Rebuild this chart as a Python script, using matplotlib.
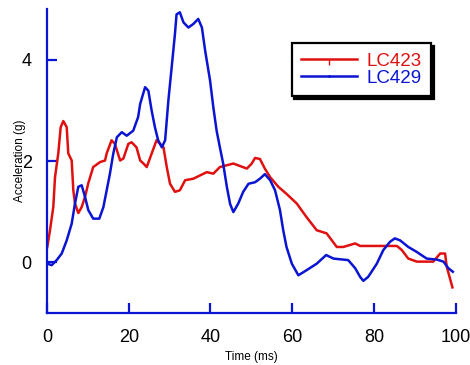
import numpy as np
import matplotlib.pyplot as plt
from matplotlib.lines import Line2D

plt.rcParams['font.family'] = ['Liberation Sans', 'DejaVu Sans']

# LC423 acceleration trace (time in ms, acceleration in g)
t423 = [0.07, 0.73, 1.54, 1.96, 2.76, 3.35, 3.99, 4.82, 5.21, 6.04, 6.44, 6.85, 7.66,
        8.49, 9.30, 10.1, 11.3, 13.0, 14.2, 14.6, 15.8, 16.6, 17.9, 18.7, 19.9, 20.7,
        21.9, 22.8, 23.6, 24.4, 26.8, 28.5, 29.3, 30.1, 31.3, 32.5, 33.8, 35.8, 39.1,
        40.7, 42.3, 45.6, 48.9, 50.1, 50.9, 52.1, 53.3, 54.6, 56.6, 58.6, 61.1, 63.5,
        66.0, 68.4, 70.9, 72.5, 75.4, 76.6, 85.6, 86.8, 88.4, 90.5, 94.5, 96.2, 97.4,
        97.8, 99.2]
a423 = [0.30, 0.63, 1.09, 1.68, 2.15, 2.67, 2.79, 2.67, 2.15, 2.01, 1.42, 1.16, 0.97,
        1.09, 1.29, 1.56, 1.88, 1.98, 2.01, 2.15, 2.41, 2.34, 2.01, 2.05, 2.34, 2.37,
        2.27, 2.01, 1.95, 1.88, 2.41, 2.27, 1.88, 1.55, 1.39, 1.42, 1.62, 1.65, 1.78,
        1.75, 1.88, 1.95, 1.85, 1.95, 2.06, 2.04, 1.85, 1.68, 1.49, 1.35, 1.16, 0.89,
        0.63, 0.57, 0.30, 0.30, 0.37, 0.32, 0.32, 0.24, 0.07, 0.01, 0.01, 0.17, 0.17,
        -0.09, -0.50]

# LC429 acceleration trace
t429 = [0.07, 1.15, 2.37, 3.60, 4.82, 6.04, 6.85, 7.66, 8.49, 9.30, 10.1, 11.3, 12.8,
        13.8, 14.6, 15.4, 16.2, 17.1, 18.3, 19.5, 21.1, 22.3, 22.8, 24.0, 24.8, 25.6,
        26.4, 27.2, 28.1, 28.9, 29.7, 30.5, 31.3, 31.7, 32.5, 33.4, 34.6, 35.8, 37.0,
        37.9, 38.7, 39.9, 40.7, 41.5, 42.3, 43.1, 44.0, 44.8, 45.6, 46.8, 48.0, 49.3,
        50.9, 52.1, 53.3, 54.6, 55.8, 57.0, 57.8, 58.6, 59.9, 61.5, 63.5, 66.0, 68.3,
        70.1, 73.7, 75.4, 76.6, 77.4, 78.6, 80.7, 82.3, 83.9, 85.1, 86.4, 88.4, 90.5,
        92.9, 95.4, 97.0, 98.2, 99.3]
a429 = [-0.03, -0.06, 0.04, 0.17, 0.43, 0.76, 1.16, 1.49, 1.52, 1.29, 1.03, 0.86, 0.86,
        1.09, 1.42, 1.75, 2.14, 2.47, 2.57, 2.50, 2.60, 2.87, 3.13, 3.46, 3.39, 3.00,
        2.67, 2.41, 2.27, 2.41, 3.20, 3.85, 4.51, 4.90, 4.94, 4.74, 4.64, 4.71, 4.81,
        4.64, 4.18, 3.59, 3.06, 2.60, 2.27, 1.95, 1.49, 1.15, 0.99, 1.16, 1.39, 1.55,
        1.58, 1.65, 1.74, 1.62, 1.42, 1.03, 0.63, 0.30, -0.03, -0.26, -0.16, -0.03, 0.14,
        0.07, 0.04, -0.12, -0.29, -0.37, -0.29, -0.03, 0.24, 0.40, 0.47, 0.43, 0.30, 0.20,
        0.07, 0.05, 0.01, -0.12, -0.19]

red = '#e01010'
blue = '#0a14d2'

fig = plt.figure(figsize=(4.7, 3.65), dpi=100)
ax = fig.add_axes([0.1, 0.1433, 0.8696, 0.8312])

ax.plot(t423, a423, color=red, lw=1.8)
ax.plot(t429, a429, color=blue, lw=1.8)

ax.set_xlim(0, 100)
ax.set_ylim(-1, 5)
ax.set_xticks([0, 20, 40, 60, 80, 100])
ax.set_yticks([0, 2, 4])

for side in ['top', 'right']:
    ax.spines[side].set_visible(False)
for side in ['left', 'bottom']:
    ax.spines[side].set_color(blue)
    ax.spines[side].set_linewidth(1.6)

ax.tick_params(direction='in', length=7, width=1.6, color=blue, labelsize=13)
ax.tick_params(axis='x', pad=12)
ax.tick_params(axis='y', pad=11)

ax.set_xlabel('Time (ms)', fontsize=8.5, labelpad=3)
ax.set_ylabel('Acceleration (g)', fontsize=8.5, labelpad=-3)

handles = [Line2D([0, 1, 2], [0, 0, 0], color=red, lw=1.8, marker=3, markersize=4, markevery=[1]),
           Line2D([0, 1, 2], [0, 0, 0], color=blue, lw=1.8, marker='.', markersize=2, markevery=[1])]
leg = ax.legend(handles, ['LC423', 'LC429'], loc='upper left',
                bbox_to_anchor=(0.6206, 0.8814), bbox_transform=fig.transFigure,
                borderaxespad=0, fontsize=13.5, labelcolor='linecolor',
                fancybox=False, shadow={'color': 'black', 'alpha': 1},
                handlelength=3.0, handletextpad=0.5, labelspacing=0.0,
                borderpad=0.5, framealpha=1)
leg.get_frame().set_edgecolor('black')
leg.get_frame().set_linewidth(1.6)

fig.savefig('out.png', dpi=100)
